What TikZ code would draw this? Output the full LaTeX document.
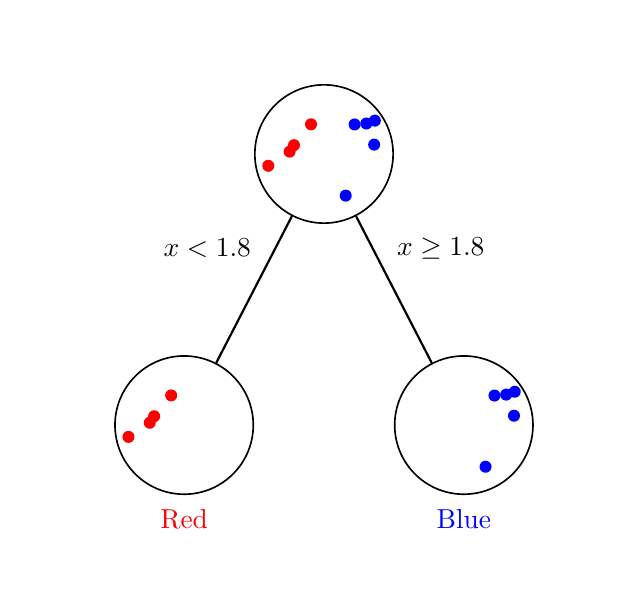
\documentclass[tikz,border=0pt]{standalone}
\usetikzlibrary{positioning}
\tikzset{
  tnode/.style = {circle, draw=black, semithick, inner sep=0pt,
                  minimum size=1.77cm},
  edge/.style  = {thick, black},
  lab/.style   = {font=\normalsize},
}
% sample points, offsets from the centre of each circle
\newcommand{\redpts}{-0.166/0.380, -0.384/0.113, -0.440/0.030, -0.713/-0.151}
\newcommand{\bluepts}{0.392/0.378, 0.542/0.390, 0.651/0.427, 0.642/0.120, 0.278/-0.533}

\begin{document}
\begin{tikzpicture}[node distance=3.47cm and 1.79cm]
  \useasboundingbox (-4.147,-5.734) rectangle (3.853,1.971);

  \node[tnode]                          (root) at (0,0) {};
  \node[tnode, on grid, below left=of root]  (lft) {};
  \node[tnode, on grid, below right=of root] (rgt) {};

  \draw[edge] (root) -- node[lab, pos=0.22, left=0.18cm]  {$x < 1.8$} (lft);
  \draw[edge] (root) -- node[lab, pos=0.22, right=0.18cm] {$x \geq 1.8$} (rgt);

  \node[lab, below=0.06cm of lft, text=red]  (rlab) {Red};
  \node[lab, below=0.06cm of rgt, text=blue] (blab) {Blue};

  % points
  \foreach \nd in {root, lft}
    \foreach \px/\py in \redpts
      \fill[red] ([shift={(\px,\py)}]\nd.center) circle (0.077);
  \foreach \nd in {root, rgt}
    \foreach \px/\py in \bluepts
      \fill[blue] ([shift={(\px,\py)}]\nd.center) circle (0.077);

\end{tikzpicture}
\end{document}
